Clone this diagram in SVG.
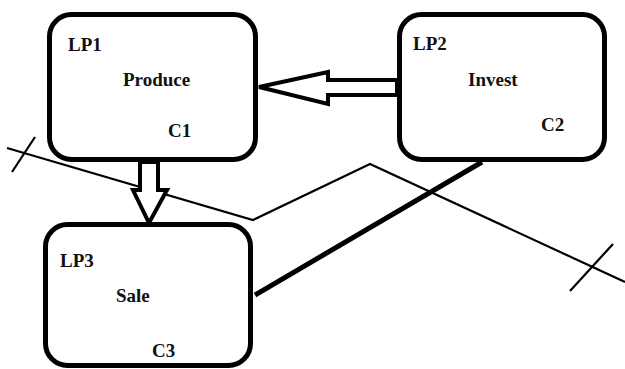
<svg xmlns="http://www.w3.org/2000/svg" width="625" height="369" viewBox="0 0 625 369">
<style>
.box{fill:#fff;stroke:#000;stroke-width:5}
.t{font-family:"Liberation Serif","Times New Roman",serif;font-weight:bold;font-size:19px;fill:#111}
.thin{fill:none;stroke:#000;stroke-width:2.2}
.arr{fill:#fff;stroke:#000;stroke-width:4;stroke-linejoin:miter}
</style>
<rect width="625" height="369" fill="#fff"/>
<g id="connectors">
<polyline class="thin" points="7,148 253,220 370,164 625,282"/>
<line class="thin" x1="12" y1="172" x2="35" y2="137"/>
<line class="thin" x1="570" y1="291" x2="613" y2="244"/>
<line x1="255" y1="295" x2="482" y2="162" stroke="#000" stroke-width="5"/>
<polygon class="arr" points="397,80 328,80 328,72 259,87 328,104 328,95 397,95"/>
<polygon class="arr" points="140,162 140,190 133,190 149,223 167,190 158,190 158,162"/>
</g>
<g id="LP1">
<rect class="box" x="49.5" y="14.5" width="206" height="145" rx="22"/>
<text class="t" x="68" y="51">LP1</text>
<text class="t" x="123" y="86">Produce</text>
<text class="t" x="168" y="137">C1</text>
</g>
<g id="LP2">
<rect class="box" x="399.5" y="14.5" width="205" height="145" rx="22"/>
<text class="t" x="413" y="50">LP2</text>
<text class="t" x="468" y="86">Invest</text>
<text class="t" x="541" y="131">C2</text>
</g>
<g id="LP3">
<rect class="box" x="45.5" y="224.5" width="205" height="141" rx="22"/>
<text class="t" x="60" y="267">LP3</text>
<text class="t" x="116" y="302">Sale</text>
<text class="t" x="152" y="357">C3</text>
</g>
</svg>
